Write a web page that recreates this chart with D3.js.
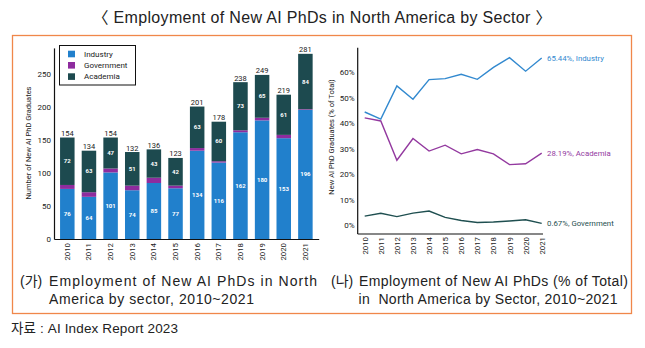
<!DOCTYPE html>
<html>
<head>
<meta charset="utf-8">
<script src="https://cdn.jsdelivr.net/npm/d3@7"></script>
<style>
  body { margin: 0; background: #fff; }
  svg { display: block; }
  .chart text { font-family: Roboto, "Liberation Sans", sans-serif; }
  .kr { font-family: "Liberation Sans", "Noto Sans CJK KR", sans-serif; fill: #222; }
</style>
</head>
<body>
<svg id="fig" width="645" height="348"></svg>
<script>
// data
const years = [2010, 2011, 2012, 2013, 2014, 2015, 2016, 2017, 2018, 2019, 2020, 2021];
const industry = [76, 64, 101, 74, 85, 77, 134, 116, 162, 180, 153, 196];
const government = [6, 7, 6, 7, 8, 4, 4, 2, 3, 4, 5, 1];
const academia = [72, 63, 47, 51, 43, 42, 63, 60, 73, 65, 61, 84];
const totals = [154, 134, 154, 132, 136, 123, 201, 178, 238, 249, 219, 281];
const barTicks = [0, 50, 100, 150, 200, 250];

const industryPct = [44.3, 41.5, 54.5, 49.3, 57.0, 57.4, 59.1, 57.1, 61.8, 65.6, 60.3, 65.44];
const academiaPct = [42.0, 40.8, 25.4, 33.9, 29.0, 31.3, 27.9, 29.6, 27.9, 23.7, 24.0, 28.19];
const governmentPct = [3.5, 4.6, 3.3, 4.7, 5.5, 3.0, 1.8, 1.0, 1.2, 1.6, 2.1, 0.67];
const pctTicks = [0, 10, 20, 30, 40, 50, 60];

const sectors = ["Industry", "Government", "Academia"];
const colors = { Industry: "#2180cc", Government: "#8e2c9e", Academia: "#1d4a4f" };
const lineColors = { Industry: "#3289cf", Government: "#1f4f50", Academia: "#93399f" };

const svg = d3.select("#fig");
svg.append("rect").attr("width", 645).attr("height", 348).attr("fill", "#fff");

// title
svg.append("text").attr("class", "kr")
  .attr("x", 322).attr("y", 23)
  .attr("text-anchor", "middle")
  .attr("font-size", 16)
  .attr("textLength", 459).attr("lengthAdjust", "spacing")
  .text("〈 Employment of New AI PhDs in North America by Sector 〉");

// orange frame
svg.append("rect")
  .attr("x", 12.5).attr("y", 35.5).attr("width", 619).attr("height", 278)
  .attr("fill", "none").attr("stroke", "#f0874a").attr("stroke-width", 1.3);

// ---------- left: stacked bars ----------
const left = svg.append("g").attr("class", "chart");

const x = d3.scaleBand().domain(years).range([54, 318.7])
  .paddingInner(0.33).paddingOuter(0.28);
const y = d3.scaleLinear().domain([0, 290]).range([239, 47.9]);

const rows = years.map((yr, i) => ({
  year: yr, Industry: industry[i], Government: government[i], Academia: academia[i], total: totals[i]
}));
const stack = d3.stack().keys(sectors)(rows);

left.selectAll("g.layer").data(stack).join("g")
  .attr("class", "layer")
  .attr("fill", (d) => colors[d.key])
  .selectAll("rect").data((d) => d).join("rect")
  .attr("x", (d) => x(d.data.year))
  .attr("width", x.bandwidth())
  .attr("y", (d) => y(d[1]))
  .attr("height", (d) => y(d[0]) - y(d[1]));

// inner value labels (industry, academia)
[stack[0], stack[2]].forEach((layer) => {
  left.append("g").selectAll("text").data(layer).join("text")
    .attr("x", (d) => x(d.data.year) + x.bandwidth() / 2)
    .attr("y", (d) => (y(d[0]) + y(d[1])) / 2 + 2)
    .attr("text-anchor", "middle")
    .attr("font-size", 6)
    .attr("font-weight", 700)
    .attr("fill", "#fff")
    .text((d) => d[1] - d[0]);
});

// totals
left.append("g").selectAll("text").data(rows).join("text")
  .attr("x", (d) => x(d.year) + x.bandwidth() / 2)
  .attr("y", (d) => y(d.total) - 1.5)
  .attr("text-anchor", "middle")
  .attr("font-size", 7.5)
  .attr("fill", "#222")
  .text((d) => d.total);

// y axis
const yAxis = left.append("g").attr("transform", "translate(54,0)")
  .call(d3.axisLeft(y).tickValues(barTicks).tickSize(0).tickPadding(3));
yAxis.select(".domain").attr("stroke", "#111").attr("stroke-width", 1.2);
yAxis.selectAll("text").attr("font-size", 8).attr("fill", "#222").attr("font-family", null);

// x axis
const xAxis = left.append("g").attr("transform", "translate(0,239)")
  .call(d3.axisBottom(x).tickSize(0).tickPadding(0));
xAxis.select(".domain").attr("stroke", "#111").attr("stroke-width", 1.2);
xAxis.selectAll("text")
  .attr("font-size", 7.8).attr("fill", "#222").attr("font-family", null)
  .attr("transform", "rotate(-90)")
  .attr("text-anchor", "end")
  .attr("dx", "-4").attr("dy", "0.32em")
  .attr("x", 0).attr("y", 0);
xAxis.selectAll(".tick").attr("transform", (d) => `translate(${x(d) + x.bandwidth() / 2},0)`);

left.append("text")
  .attr("transform", "translate(31,143) rotate(-90)")
  .attr("text-anchor", "middle")
  .attr("font-size", 7.5).attr("fill", "#222")
  .text("Number of New AI PhD Graduates");

// legend
const legend = left.append("g");
legend.append("rect")
  .attr("x", 59.5).attr("y", 45.5).attr("width", 76).attr("height", 39.5)
  .attr("fill", "#fff").attr("stroke", "#111").attr("stroke-width", 1);
sectors.forEach((s, i) => {
  const cy = 54 + i * 11.3;
  legend.append("rect").attr("x", 68).attr("y", cy - 3.3).attr("width", 7).attr("height", 6.6)
    .attr("fill", colors[s]);
  legend.append("text").attr("x", 84).attr("y", cy + 2.8)
    .attr("font-size", 8).attr("fill", "#222").text(s);
});

// ---------- right: share lines ----------
const right = svg.append("g").attr("class", "chart");

const x2 = d3.scalePoint().domain(years).range([364.7, 541.7]);
const y2 = d3.scaleLinear().domain([-3.5, 69.5]).range([234, 47.7]);

const ya2 = right.append("g").attr("transform", "translate(357.7,0)")
  .call(d3.axisLeft(y2).tickValues(pctTicks).tickSize(0).tickPadding(3).tickFormat((d) => d + "%"));
ya2.select(".domain").remove();
ya2.selectAll("text").attr("font-size", 8).attr("fill", "#222").attr("font-family", null);

right.append("line")
  .attr("x1", 357.7).attr("x2", 357.7).attr("y1", y2.range()[1]).attr("y2", 234)
  .attr("stroke", "#111").attr("stroke-width", 1.2);
right.append("line")
  .attr("x1", 357.7).attr("x2", 543).attr("y1", 234).attr("y2", 234)
  .attr("stroke", "#111").attr("stroke-width", 1.2);

const xa2 = right.append("g").attr("transform", "translate(0,234)")
  .call(d3.axisBottom(x2).tickSize(0).tickPadding(0));
xa2.select(".domain").remove();
xa2.selectAll("text")
  .attr("font-size", 7.8).attr("fill", "#222").attr("font-family", null)
  .attr("transform", "rotate(-90)")
  .attr("text-anchor", "end")
  .attr("dx", "-3").attr("dy", "0.32em")
  .attr("x", 0).attr("y", 0);

right.append("text")
  .attr("transform", "translate(334,137) rotate(-90)")
  .attr("text-anchor", "middle")
  .attr("font-size", 7.5).attr("fill", "#222")
  .text("New AI PhD Graduates (% of Total)");

const series = [
  { key: "Industry", values: industryPct },
  { key: "Academia", values: academiaPct },
  { key: "Government", values: governmentPct },
];
const line = d3.line().x((d, i) => x2(years[i])).y((d) => y2(d));

right.selectAll("path.series").data(series).join("path")
  .attr("class", "series")
  .attr("fill", "none")
  .attr("stroke", (d) => lineColors[d.key])
  .attr("stroke-width", 1.4)
  .attr("d", (d) => line(d.values));

right.selectAll("text.end").data(series).join("text")
  .attr("class", "end")
  .attr("x", 547)
  .attr("y", (d) => y2(d.values[d.values.length - 1]) + 2.5)
  .attr("font-size", 7.8)
  .attr("fill", (d) => lineColors[d.key])
  .text((d) => `${d.values[d.values.length - 1].toFixed(2)}%, ${d.key}`);

// ---------- captions ----------
const cap = svg.append("g").attr("class", "kr").attr("font-size", 14);
cap.append("text").attr("x", 20).attr("y", 286).text("(가)");
cap.append("text").attr("x", 49).attr("y", 286)
  .attr("textLength", 268).attr("lengthAdjust", "spacing")
  .text("Employment of New AI PhDs in North");
cap.append("text").attr("x", 49).attr("y", 303.5)
  .attr("textLength", 205).attr("lengthAdjust", "spacing")
  .text("America by sector, 2010~2021");
cap.append("text").attr("x", 331).attr("y", 286).text("(나)");
cap.append("text").attr("x", 359).attr("y", 286)
  .attr("textLength", 269).attr("lengthAdjust", "spacing")
  .text("Employment of New AI PhDs (% of Total)");
cap.append("text").attr("x", 358.5).attr("y", 303.5)
  .attr("textLength", 259).attr("lengthAdjust", "spacing")
  .text("in\u00a0\u00a0North America by Sector, 2010~2021");

svg.append("text").attr("class", "kr")
  .attr("x", 11).attr("y", 333)
  .attr("font-size", 13.5)
  .attr("textLength", 167).attr("lengthAdjust", "spacing")
  .text("자료 : AI Index Report 2023");
</script>
</body>
</html>
